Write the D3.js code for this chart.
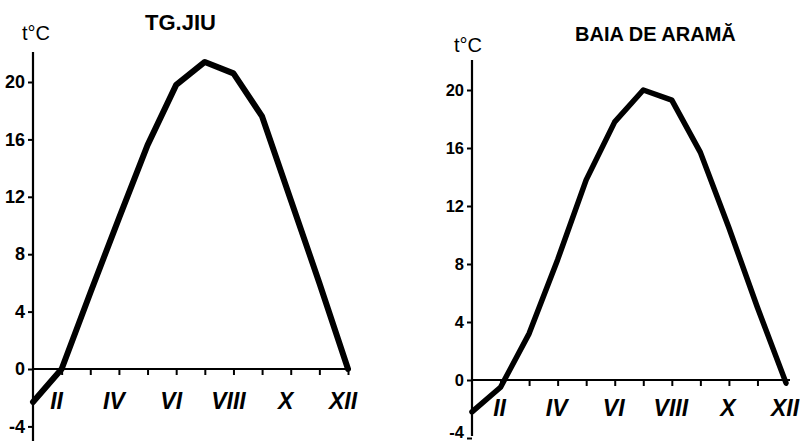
<!DOCTYPE html>
<html>
<head>
<meta charset="utf-8">
<script src="https://cdn.jsdelivr.net/npm/d3@7"></script>
<style>
  html, body { margin: 0; padding: 0; background: #fff; }
  svg { display: block; }
</style>
</head>
<body>
<svg id="chart" width="800" height="441"></svg>
<script>
// ---- data ----
const months = ["I","II","III","IV","V","VI","VII","VIII","IX","X","XI","XII"];
const monthLabels = ["II","IV","VI","VIII","X","XII"];
const yTicks = [-4, 0, 4, 8, 12, 16, 20];
const tgJiuTemps = [-2.3, 0.0, 5.3, 10.5, 15.6, 19.8, 21.4, 20.6, 17.6, 11.8, 6.0, 0.0];
const baiaTemps  = [-2.2, -0.5, 3.2, 8.3, 13.8, 17.8, 20.0, 19.3, 15.7, 10.5, 5.0, -0.2];
const titles = ["TG.JIU", "BAIA DE ARAMĂ"];
const unitLabel = "t°C";

// ---- layout ----
const svg = d3.select("#chart");
const FONT = "Liberation Sans, Arial, sans-serif";
const panels = [
  { values: tgJiuTemps, title: titles[0], x0: 33, x1: 348, yZero: 369, y20: 82,
    axisTop: 52, axisBottom: 441, xEnd: 351, lw: 6,
    titleX: 145, titleY: 30, titleSize: 22,
    unitX: 22, unitY: 40, tickFont: 18, negDy: 0, labelDx: -5, romanY: 409 },
  { values: baiaTemps, title: titles[1], x0: 472, x1: 786, yZero: 380, y20: 90,
    axisTop: 60, axisBottom: 436, xEnd: 790, lw: 5.5,
    titleX: 575, titleY: 41, titleSize: 20,
    unitX: 454, unitY: 52, tickFont: 16.5, negDy: -6, labelDx: -1, romanY: 416 }
];

panels.forEach(p => {
  const g = svg.append("g");
  const x = d3.scalePoint().domain(months).range([p.x0, p.x1]);
  const y = d3.scaleLinear().domain([0, 20]).range([p.yZero, p.y20]);

  // y axis line
  g.append("line")
    .attr("x1", p.x0).attr("x2", p.x0)
    .attr("y1", p.axisTop).attr("y2", p.axisBottom)
    .attr("stroke", "#000").attr("stroke-width", 2.2);

  // x axis line at 0
  g.append("line")
    .attr("x1", p.x0).attr("x2", p.xEnd)
    .attr("y1", y(0)).attr("y2", y(0))
    .attr("stroke", "#000").attr("stroke-width", 2.2);

  // y ticks + labels
  const yAxis = d3.axisLeft(y).tickValues(yTicks).tickSize(5).tickPadding(3)
    .tickFormat(d => d < 0 ? "-" + Math.abs(d) : d);
  const ya = g.append("g").attr("transform", `translate(${p.x0},0)`).call(yAxis);
  ya.attr("font-size", p.tickFont).attr("font-family", FONT).attr("font-weight", "bold");
  ya.select(".domain").remove();
  ya.selectAll("line").attr("stroke", "#000").attr("stroke-width", 2);
  ya.selectAll("text")
    .attr("font-size", p.tickFont)
    .attr("fill", "#000")
    .attr("dy", d => d < 0 ? (0.32 * p.tickFont + p.negDy) : 0.32 * p.tickFont);

  // x ticks (month marks)
  const xAxis = d3.axisBottom(x).tickValues(months.slice(1)).tickSize(6).tickFormat("");
  const xa = g.append("g").attr("transform", `translate(0,${y(0)})`).call(xAxis);
  xa.select(".domain").remove();
  xa.selectAll("line").attr("stroke", "#000").attr("stroke-width", 2);

  // roman month labels
  g.selectAll("text.month").data(monthLabels).join("text")
    .attr("class", "month")
    .attr("x", d => x(d) + p.labelDx)
    .attr("y", p.romanY)
    .attr("text-anchor", "middle")
    .attr("font-family", FONT)
    .attr("font-weight", "bold")
    .attr("font-style", "italic")
    .attr("font-size", 23)
    .attr("fill", "#000")
    .text(d => d);

  // unit label
  g.append("text")
    .attr("x", p.unitX).attr("y", p.unitY)
    .attr("font-family", FONT)
    .attr("font-size", 20)
    .attr("fill", "#000")
    .text(unitLabel);

  // title
  g.append("text")
    .attr("x", p.titleX).attr("y", p.titleY)
    .attr("font-family", FONT)
    .attr("font-weight", "bold")
    .attr("font-size", p.titleSize)
    .attr("fill", "#000")
    .text(p.title);

  // temperature curve
  const line = d3.line()
    .x((d, i) => x(months[i]))
    .y(d => y(d));
  g.append("path")
    .datum(p.values)
    .attr("d", line)
    .attr("fill", "none")
    .attr("stroke", "#000")
    .attr("stroke-width", p.lw)
    .attr("stroke-linejoin", "round")
    .attr("stroke-linecap", "round");
});
</script>
</body>
</html>
